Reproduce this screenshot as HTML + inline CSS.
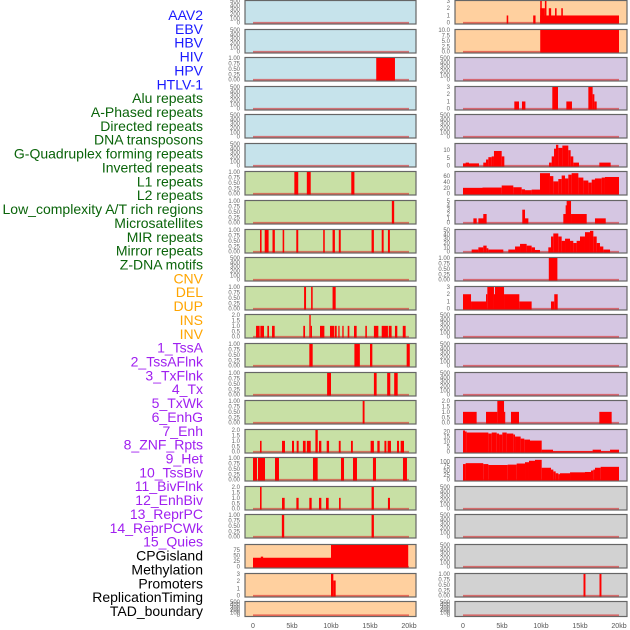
<!DOCTYPE html>
<html><head><meta charset="utf-8">
<style>
html,body{margin:0;padding:0;background:#fff;}
svg{display:block;font-family:"Liberation Sans",sans-serif;}
</style></head>
<body>
<svg id="chart" width="630" height="630" viewBox="0 0 630 630" xmlns="http://www.w3.org/2000/svg"></svg>
<script>
// ---------- data ----------
const trackLabels = ["AAV2","EBV","HBV","HIV","HPV","HTLV-1","Alu repeats","A-Phased repeats","Directed repeats","DNA transposons","G-Quadruplex forming repeats","Inverted repeats","L1 repeats","L2 repeats","Low_complexity A/T rich regions","Microsatellites","MIR repeats","Mirror repeats","Z-DNA motifs","CNV","DEL","DUP","INS","INV","1_TssA","2_TssAFlnk","3_TxFlnk","4_Tx","5_TxWk","6_EnhG","7_Enh","8_ZNF_Rpts","9_Het","10_TssBiv","11_BivFlnk","12_EnhBiv","13_ReprPC","14_ReprPCWk","15_Quies","CPGisland","Methylation","Promoters","ReplicationTiming","TAD_boundary"];
const labelGroups = ["virus","virus","virus","virus","virus","virus","repeat","repeat","repeat","repeat","repeat","repeat","repeat","repeat","repeat","repeat","repeat","repeat","repeat","sv","sv","sv","sv","sv","chrom","chrom","chrom","chrom","chrom","chrom","chrom","chrom","chrom","chrom","chrom","chrom","chrom","chrom","chrom","other","other","other","other","other"];
const xTickValues = [0,5,10,15,20];
const xTickLabels = ["0","5kb","10kb","15kb","20kb"];

// tick sets
const ticksEmpty = [0,100,200,300,400,500];
const ticksOne = [0,0.25,0.5,0.75,1];
const ticksOneLabels = ["0.00","0.25","0.50","0.75","1.00"];
const ticksTwo = [0,0.5,1,1.5,2];
const ticksTwoLabels = ["0.0","0.5","1.0","1.5","2.0"];
const ticksThree = [0,1,2,3];
const ticksCpg = [0,25,50,75];
const ticksTen = [0,2.5,5,7.5,10];
const ticksTenLabels = ["0.0","2.5","5.0","7.5","10.0"];
const ticksGq = [0,5,10];
const ticksL1 = [0,20,40,60];
const ticksFive = [0,1,2,3,4,5];
const ticksMir = [0,10,20,30,40,50];
const ticksTwenty = [0,5,10,15,20];
const ticksHundred = [0,25,50,75,100];

// left column segments [startKb, endKb, value]
const leftHiv = [[15.8,18.2,1]];
const leftRow6 = [[5.3,5.8,1],[6.9,7.4,1],[12.6,13.0,1]];
const leftRow7 = [[17.8,18.1,1]];
const leftRow8 = [[0.9,1.1,1],[1.5,2.0,1],[2.5,2.8,1],[3.8,4.0,1],[5.55,5.8,1],[9.0,9.2,1],[10.2,10.5,1],[11.0,11.25,1],[15.2,15.5,1],[16.5,16.75,1],[17.3,17.55,1]];
const leftRow10 = [[6.55,6.8,1],[7.45,7.65,1],[10.2,10.6,1]];
const leftRow11 = [[0.39,0.85,1],[0.94,1.41,1],[1.84,2.05,1],[2.44,2.78,1],[6.45,6.67,1],[7.22,7.4,2],[7.4,7.56,1],[8.59,9.15,1],[9.87,10.43,1],[10.51,10.73,1],[10.94,11.1,1],[11.45,11.62,1],[12.14,12.35,1],[12.95,13.29,1],[14.4,14.6,1],[15.5,16.07,1],[16.5,17.3,1],[17.4,17.77,1],[18.2,18.5,1],[19.2,19.57,1]];
const leftRow12 = [[7.22,7.65,1],[13.0,13.7,1],[15.0,15.3,1],[19.7,20.1,1]];
const leftRow13 = [[9.5,10.0,1],[15.5,15.85,1],[17.2,17.6,1],[18.1,18.55,1]];
const leftRow14 = [[14.06,14.3,1]];
const leftRow15 = [[0.9,1.1,1],[3.72,4.1,1],[5.0,5.26,1],[5.6,5.85,1],[6.4,6.75,1],[6.9,7.4,1],[8.0,8.3,2],[8.46,8.76,1],[9.45,9.75,1],[11.0,11.24,1],[12.56,12.8,1],[15.08,15.5,1],[15.94,16.24,1],[16.85,17.1,1],[17.26,17.69,1],[18.46,18.72,1],[18.93,19.36,1]];
const leftRow16 = [[0,0.51,1],[0.64,1.54,1],[2.82,3.33,1],[7.69,8.29,1],[11.28,11.67,1],[12.82,13.33,1],[15.38,15.77,1],[19.23,19.74,1]];
const leftRow17 = [[0.9,1.1,2],[15.2,15.5,2],[3.72,4.06,1],[5.56,5.85,1],[7.22,7.52,1],[8.46,8.76,1],[9.36,9.7,1],[11.03,11.24,1],[17.3,17.56,1]];
const leftRow18 = [[3.7,4.0,1],[15.2,15.5,1]];
const leftCpg = [[0,10,40],[1.0,1.3,45],[10,19.9,97]];
const leftMeth = [[10.0,10.3,3],[10.3,10.6,2.1]];

// right column segments
const rightRow0 = [[9.9,20,1],[9.9,10.5,2],[9.9,10.1,3],[10.5,10.7,3],[11.0,11.3,2],[11.8,12.0,2],[12.6,12.8,2],[5.6,5.8,1],[9.0,9.3,1]];
const rightRow1 = [[9.9,20,10]];
const rightRow3 = [[6.58,7.18,1],[7.56,8.0,1],[11.45,12.18,3],[13.25,13.97,1],[16.07,16.62,3],[16.62,16.84,2],[16.84,17.14,1]];
const rightRow5 = [[0,2.05,1.5],[0.34,0.77,2],[2.6,2.95,2],[2.95,3.25,4],[3.25,3.68,5.5],[3.68,3.97,6],[3.97,4.96,9.5],[4.96,5.3,6],[11.03,11.37,2],[11.37,11.67,6],[11.67,11.92,11],[11.92,12.22,13.5],[12.22,12.74,11.5],[12.74,13.5,13],[13.5,13.8,10],[13.8,14.14,6],[14.14,14.87,2],[17.48,18.93,2]];
const rightRow6 = [[0,2.5,20],[2.5,4.96,21],[4.96,6.45,28],[6.45,7.52,22],[7.52,7.95,15],[7.95,8.8,12],[8.8,9.87,14],[9.87,11.15,70],[11.15,11.58,60],[11.58,12.22,42],[12.22,12.65,50],[12.65,13.08,62],[13.08,13.5,52],[13.5,13.93,65],[13.93,14.79,70],[14.79,15.43,55],[15.43,16.07,45],[16.07,16.5,38],[16.5,16.92,48],[16.92,17.78,52],[17.78,18.2,55],[18.2,20,57]];
const rightRow7 = [[1.33,1.76,1],[1.97,2.82,1],[2.6,3.03,2],[7.6,7.95,3],[7.95,8.38,1],[12.86,13.29,2],[13.16,13.5,4],[13.29,13.85,5],[13.85,15.86,2],[16.92,18.3,1]];
const rightRow8 = [[1.11,1.97,5],[1.97,2.6,10],[2.6,3.03,14],[3.03,3.25,8],[3.25,5.17,5],[5.81,6.67,5],[6.67,7.31,12],[7.31,8.16,18],[8.16,8.8,14],[8.8,9.23,10],[9.23,9.87,4],[10.94,11.28,10],[11.28,11.58,35],[11.58,12.22,42],[12.22,12.65,35],[12.65,13.08,25],[13.08,13.72,30],[13.72,14.14,25],[14.14,14.57,20],[14.57,15.0,25],[15.0,15.64,35],[15.64,16.28,45],[16.28,16.71,48],[16.71,17.14,35],[17.14,17.56,20],[17.56,17.99,12],[17.99,18.85,5]];
const rightRow9 = [[11.0,12.1,1]];
const rightRow10 = [[0,1.03,2],[1.03,2.95,1],[2.95,3.12,2],[3.12,3.97,3],[3.97,4.1,2],[4.1,5.26,3],[5.26,7.22,2],[7.22,8.8,1],[11.28,11.7,1],[11.7,12.14,2]];
const rightRow14 = [[0,1.75,1],[2.95,4.4,1],[4.4,5.26,2],[5.26,5.4,1],[6.15,7.18,1],[17.48,19.06,1]];
const rightRow15 = [[0,0.26,21],[0.26,0.47,20],[0.47,3.25,19],[3.25,3.68,18],[3.68,4.32,19],[4.32,4.62,18],[4.62,5.04,17],[5.04,5.6,19],[5.6,6.45,18],[6.45,6.67,17],[6.67,7.39,15],[7.39,7.86,13],[7.86,8.59,12],[8.59,10.09,11],[10.09,11.54,2],[11.54,16.62,0.5],[16.62,17.69,2],[17.69,18.85,0.5],[18.85,20,2]];
const rightRow16 = [[0,0.34,85],[0.34,2.6,90],[2.6,3.25,85],[3.25,5.73,80],[5.73,6.88,82],[6.88,7.95,88],[7.95,8.46,95],[8.46,9.23,103],[9.23,10.09,108],[10.09,11.28,65],[11.28,11.58,55],[11.58,11.88,45],[11.88,12.22,35],[12.22,12.43,30],[12.43,13.72,35],[13.72,15.64,40],[15.64,16.41,42],[16.41,16.71,50],[16.71,16.92,55],[16.92,17.65,65],[17.65,20,70]];
const rightRow20 = [[15.45,15.7,1],[17.5,17.75,1]];

// ---------- layout ----------
const rowTops = [0,29,57,86,114,143,171,200,229,257,286,314,343,372,400,429,457,486,514,544,573,601];
const cols = [{x0:245,x1:416,z:253,tx:240},{x0:455,x1:627,z:463,tx:450}];
const kbPx = 7.8;
const blue="#c6e3eb", green="#c8e0a5", peach="#ffd09f", purple="#d5c6e2", gray="#d2d2d2";
const E = {ticks:ticksEmpty,max:500,segs:[]};
const leftPanels = [
 Object.assign({bg:blue},E), Object.assign({bg:blue},E),
 {bg:blue,ticks:ticksOne,labels:ticksOneLabels,max:1,segs:leftHiv},
 Object.assign({bg:blue},E), Object.assign({bg:blue},E), Object.assign({bg:blue},E),
 {bg:green,ticks:ticksOne,labels:ticksOneLabels,max:1,segs:leftRow6},
 {bg:green,ticks:ticksOne,labels:ticksOneLabels,max:1,segs:leftRow7},
 {bg:green,ticks:ticksOne,labels:ticksOneLabels,max:1,segs:leftRow8},
 Object.assign({bg:green},E),
 {bg:green,ticks:ticksOne,labels:ticksOneLabels,max:1,segs:leftRow10},
 {bg:green,ticks:ticksTwo,labels:ticksTwoLabels,max:2,segs:leftRow11},
 {bg:green,ticks:ticksOne,labels:ticksOneLabels,max:1,segs:leftRow12},
 {bg:green,ticks:ticksOne,labels:ticksOneLabels,max:1,segs:leftRow13},
 {bg:green,ticks:ticksOne,labels:ticksOneLabels,max:1,segs:leftRow14},
 {bg:green,ticks:ticksTwo,labels:ticksTwoLabels,max:2,segs:leftRow15},
 {bg:green,ticks:ticksOne,labels:ticksOneLabels,max:1,segs:leftRow16},
 {bg:green,ticks:ticksTwo,labels:ticksTwoLabels,max:2,segs:leftRow17},
 {bg:green,ticks:ticksOne,labels:ticksOneLabels,max:1,segs:leftRow18},
 {bg:peach,ticks:ticksCpg,max:97,segs:leftCpg},
 {bg:peach,ticks:ticksThree,max:3,segs:leftMeth},
 Object.assign({bg:peach},E)
];
const rightPanels = [
 {bg:peach,ticks:ticksThree,max:3,segs:rightRow0},
 {bg:peach,ticks:ticksTen,labels:ticksTenLabels,max:10,segs:rightRow1},
 Object.assign({bg:purple},E),
 {bg:purple,ticks:ticksThree,max:3,segs:rightRow3},
 Object.assign({bg:purple},E),
 {bg:purple,ticks:ticksGq,max:14,segs:rightRow5},
 {bg:purple,ticks:ticksL1,max:74,segs:rightRow6},
 {bg:purple,ticks:ticksFive,max:5,segs:rightRow7},
 {bg:purple,ticks:ticksMir,max:50,segs:rightRow8},
 {bg:purple,ticks:ticksOne,labels:ticksOneLabels,max:1,segs:rightRow9},
 {bg:purple,ticks:ticksThree,max:3,segs:rightRow10},
 Object.assign({bg:purple},E), Object.assign({bg:purple},E), Object.assign({bg:purple},E),
 {bg:purple,ticks:ticksTwo,labels:ticksTwoLabels,max:2,segs:rightRow14},
 {bg:purple,ticks:ticksTwenty,max:21.5,segs:rightRow15},
 {bg:purple,ticks:ticksHundred,max:118,segs:rightRow16},
 Object.assign({bg:gray},E), Object.assign({bg:gray},E), Object.assign({bg:gray},E),
 {bg:gray,ticks:ticksOne,labels:ticksOneLabels,max:1,segs:rightRow20},
 Object.assign({bg:gray},E)
];

const NS="http://www.w3.org/2000/svg";
const svg=document.getElementById('chart');
function mk(tag,attrs,parent){const e=document.createElementNS(NS,tag);for(const k in attrs)e.setAttribute(k,attrs[k]);(parent||svg).appendChild(e);return e;}

// labels
const groupColor={virus:"#1a1aff",repeat:"#0a640a",sv:"#ffa500",chrom:"#a020f0",other:"#000"};
trackLabels.forEach((t,i)=>{
  const el=mk('text',{x:203,y:(15+i*13.86+5).toFixed(1),'text-anchor':'end','font-size':'14',fill:groupColor[labelGroups[i]]});
  el.textContent=t;
  
  
});

function drawPanel(p,row,ci){
  const c=cols[ci];
  const top=rowTops[row], h=(row===21?16:24.5), bot=top+h;
  const g=mk('g',{});
  
  
  const rect=mk('rect',{x:c.x0,y:top+0.5,width:c.x1-c.x0,height:h-1,fill:p.bg,stroke:'#666','stroke-width':1.2},g);
  
  
  const y0=bot-1.8, y1=top+1;
  const ys=v=>y0-(v/p.max)*(y0-y1);
  const xs=kb=>c.z+kb*kbPx;
  // baseline
  const bl=mk('line',{x1:xs(0),x2:xs(20),y1:y0,y2:y0,stroke:'rgba(215,40,40,0.6)','stroke-width':1.6},g);
  
  
  p.segs.forEach(s=>{
    const x=xs(s[0]), w=Math.max(xs(s[1])-x,1.2), y=ys(s[2]);
    const b=mk('rect',{x:x.toFixed(2),y:y.toFixed(2),width:w.toFixed(2),height:(y0-y+0.8).toFixed(2),fill:'#ff0000'},g);
    
    
  });
  p.ticks.forEach((tv,k)=>{
    const lab=p.labels?p.labels[k]:String(tv);
    const t=mk('text',{x:c.tx,y:(ys(tv)+2).toFixed(1),'text-anchor':'end','font-size':'6',fill:'#666'},g);
    t.textContent=lab;
    
    
  });
}
leftPanels.forEach((p,i)=>drawPanel(p,i,0));
rightPanels.forEach((p,i)=>drawPanel(p,i,1));

cols.forEach((c,ci)=>{
  xTickValues.forEach((v,k)=>{
    const t=mk('text',{x:c.z+v*kbPx,y:628,'text-anchor':'middle','font-size':'7',fill:'#555'});
    t.textContent=xTickLabels[k];
    
    
  });
});
</script>
</body></html>
